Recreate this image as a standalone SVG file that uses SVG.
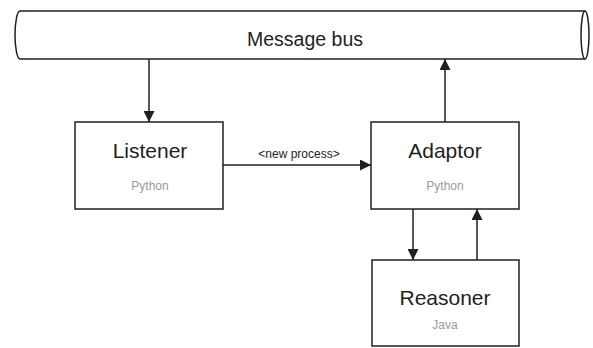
<svg xmlns="http://www.w3.org/2000/svg" width="593" height="348" viewBox="0 0 593 348">
<defs>
<marker id="arr" viewBox="0 0 10 10" refX="10" refY="5" markerWidth="11" markerHeight="11" markerUnits="userSpaceOnUse" orient="auto">
<path d="M0,0 L10,5 L0,10 Z" fill="#231f20"/>
</marker>
</defs>
<style>
.box{fill:#fff;stroke:#231f20;stroke-width:1.5}
.title{font-family:"Liberation Sans",Arial,sans-serif;font-size:21px;fill:#231f20;text-anchor:middle}
.bus{font-size:19.5px}
.sub{font-family:"Liberation Sans",Arial,sans-serif;font-size:12px;fill:#9a9a9a;text-anchor:middle}
.lbl{font-family:"Liberation Sans",Arial,sans-serif;font-size:12px;fill:#231f20;text-anchor:middle}
.conn{stroke:#231f20;stroke-width:1.5;fill:none;marker-end:url(#arr)}
</style>
<rect width="593" height="348" fill="#fff"/>
<g id="bus">
<path class="box" d="M585,11 H20 A5,24 0 0 0 20,59 H585"/>
<ellipse class="box" cx="585" cy="35" rx="4" ry="24"/>
<text class="title bus" x="305" y="46">Message bus</text>
</g>
<g id="listener">
<rect class="box" x="75" y="122" width="148" height="87"/>
<text class="title" x="150" y="158">Listener</text>
<text class="sub" x="150" y="190">Python</text>
</g>
<g id="adaptor">
<rect class="box" x="371" y="122" width="148" height="87"/>
<text class="title" x="445" y="158">Adaptor</text>
<text class="sub" x="445" y="190">Python</text>
</g>
<g id="reasoner">
<rect class="box" x="372" y="260" width="147" height="86"/>
<text class="title" x="445" y="305">Reasoner</text>
<text class="sub" x="445" y="329">Java</text>
</g>
<g id="connectors">
<line class="conn" x1="149" y1="59" x2="149" y2="122"/>
<line class="conn" x1="223" y1="165" x2="371" y2="165"/>
<text class="lbl" x="299" y="158">&lt;new process&gt;</text>
<line class="conn" x1="445" y1="122" x2="445" y2="59"/>
<line class="conn" x1="413" y1="209" x2="413" y2="260"/>
<line class="conn" x1="477" y1="260" x2="477" y2="209"/>
</g>
</svg>
